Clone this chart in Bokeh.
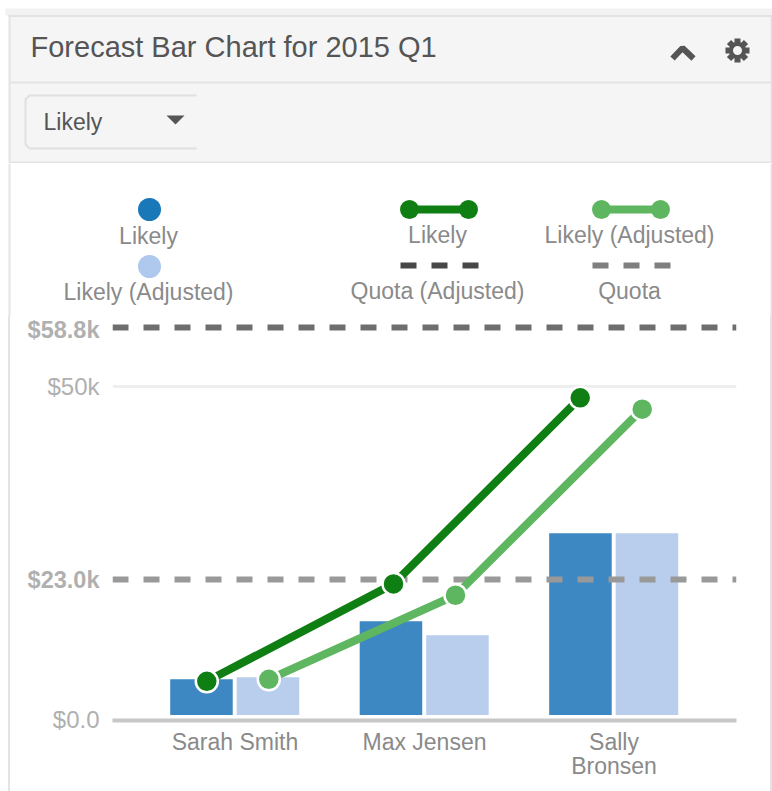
from bokeh.plotting import figure
from bokeh.layouts import column
from bokeh.models import (ColumnDataSource, FactorRange, Range1d, LinearAxis, FixedTicker,
                          CategoricalAxis)
from bokeh.transform import dodge
from bokeh.core.properties import value
from bokeh.embed import file_html
from bokeh.resources import INLINE

FONT = "Liberation Sans"
W = 772

# ---- data (values in $k)
people = ["Sarah Smith", "Max Jensen", "Sally"]
people_second_line = [" ", "  ", "Bronsen"]
bar_likely = [6.1, 14.8, 28.0]
bar_adjusted = [6.4, 12.7, 28.0]
line_likely = [5.8, 20.4, 48.3]
line_adjusted = [6.1, 18.7, 46.6]
quota_adjusted = [58.8]
quota = [21.0]
grid_values = [50]
tick_plain = {0: "$0.0", 50: "$50k"}
tick_bold = {58.8: "$58.8k", 21.0: "$23.0k"}
title_text = "Forecast Bar Chart for 2015 Q1"
dropdown_text = "Likely"
legend_bars = ["Likely", "Likely (Adjusted)"]
legend_lines = ["Likely", "Likely (Adjusted)"]
legend_quota = ["Quota (Adjusted)", "Quota"]

C_BLUE, C_LBLUE = "#3d87c2", "#b8ceec"
C_GREEN, C_LGREEN = "#0f7f14", "#5fb660"
C_BORDER = "#e4e4e4"


def pixel_fig(height, top_px):
    """A figure whose data units are the page's pixels."""
    f = figure(width=W, height=height, x_range=Range1d(0, W),
               y_range=Range1d(top_px + height, top_px), toolbar_location=None,
               output_backend="svg", min_border=0, outline_line_color=None)
    f.axis.visible = False
    f.grid.visible = False
    return f


# ---- header
h = pixel_fig(163, 0)
h.quad(left=[5], right=[772], top=[8], bottom=[15], fill_color="#f2f2f2", line_color=None)
h.quad(left=[9], right=[772], top=[16], bottom=[163], fill_color="#f5f5f5", line_color=None)
h.segment(x0=[8], x1=[772], y0=[15.5], y1=[15.5], line_color="#e2e2e2", line_width=2)
h.segment(x0=[9, 771], x1=[9, 771], y0=[15, 15], y1=[163, 163], line_color=C_BORDER, line_width=2)
h.segment(x0=[9, 9], x1=[772, 772], y0=[82, 162], y1=[82, 162], line_color=C_BORDER, line_width=2)
h.text(x=[30], y=[46], text=[title_text], text_font=value(FONT), text_font_size="29px",
       text_color="#555555", text_baseline="middle")
h.line(x=[196, 29, 25, 25, 29, 196], y=[95, 95, 99, 144, 148, 148], line_color="#e0e0e0", line_width=2)
h.text(x=[43], y=[121], text=[dropdown_text], text_font=value(FONT), text_font_size="23px",
       text_color="#555555", text_baseline="middle")
h.patch(x=[166, 184, 175], y=[115, 115, 124], fill_color="#555555", line_color=None)
h.line(x=[672, 682, 693], y=[58, 47.5, 58], line_color="#555555", line_width=6)
h.segment(x0=[737, 725, 728.5, 728.5], x1=[737, 749, 745.5, 745.5],
          y0=[38, 50, 41.5, 58.5], y1=[62, 50, 58.5, 41.5], line_color="#555555", line_width=6)
h.scatter(x=[737], y=[50], size=13, fill_color="#f5f5f5", line_color="#555555", line_width=4)

# ---- legend
g = pixel_fig(153, 163)
g.segment(x0=[9, 771], x1=[9, 771], y0=[163, 163], y1=[316, 316], line_color=C_BORDER, line_width=2)
g.scatter(x=[149, 149], y=[209, 266], size=23, fill_color=["#1878b8", "#aec8ee"], line_color=None)
for x0, c in ((400, C_GREEN), (592, C_LGREEN)):
    g.line(x=[x0 + 9, x0 + 68], y=[209, 209], line_color=c, line_width=8)
    g.scatter(x=[x0 + 9, x0 + 68], y=[209, 209], size=19, fill_color=c, line_color=None)
for x0, c in ((400, "#474747"), (592, "#7f7f7f")):
    g.line(x=[x0, x0 + 78], y=[265, 265], line_color=c, line_width=6, line_dash="16 15")
lg_x = [148, 148, 437, 437, 629, 629]
lg_y = [235, 291, 234, 290, 234, 290]
lg_t = [legend_bars[0], legend_bars[1], legend_lines[0], legend_quota[0], legend_lines[1], legend_quota[1]]
g.text(x=lg_x, y=lg_y, text=lg_t, text_font=value(FONT), text_font_size="23px",
       text_color="#8a8a8a", text_align="center", text_baseline="middle")

# ---- chart
p = figure(frame_width=624, frame_height=404, toolbar_location=None, output_backend="svg",
           x_range=FactorRange(factors=people, factor_padding=0, range_padding=0.1465,
                               range_padding_units="absolute"),
           y_range=Range1d(-0.08, 60.5), y_axis_type=None,
           min_border_left=112, min_border_right=36, min_border_top=0, min_border_bottom=71,
           outline_line_color=None, border_fill_color=None)
p.extra_x_ranges["line"] = FactorRange(factors=people, factor_padding=0, range_padding=0.171,
                                       range_padding_units="absolute")
p.extra_x_ranges["second"] = FactorRange(factors=people_second_line, factor_padding=0, range_padding=0.1465,
                                         range_padding_units="absolute")
p.xgrid.visible = False

src = ColumnDataSource(dict(x=people, likely=bar_likely, adjusted=bar_adjusted,
                            l_likely=line_likely, l_adjusted=line_adjusted,
                            base=[0.75] * len(people)))

p.hspan(y=grid_values, line_color="#eeeeee", line_width=3)

p.vbar(x=dodge("x", -0.177, range=p.x_range), top="likely", bottom="base", width=0.33, source=src,
       fill_color=C_BLUE, line_color=None)
p.vbar(x=dodge("x", 0.174, range=p.x_range), top="adjusted", bottom="base", width=0.33, source=src,
       fill_color=C_LBLUE, line_color=None)

p.hspan(y=quota_adjusted, line_color="#6e6e6e", line_width=6, line_dash="16 15")
p.hspan(y=quota, line_color="#999999", line_width=6, line_dash="16 15")

for col, off, c in (("l_likely", -0.166, C_GREEN), ("l_adjusted", 0.166, C_LGREEN)):
    xd = dodge("x", off, range=p.extra_x_ranges["line"])
    p.line(x=xd, y=col, source=src, x_range_name="line", line_color=c, line_width=8)
    p.scatter(x=xd, y=col, source=src, x_range_name="line", size=22, fill_color=c,
              line_color="white", line_width=2.5)

xa = p.below[0]
xa.axis_line_color = "#c8c8c8"
xa.axis_line_width = 4
xa.major_tick_line_color = None
xa.minor_tick_line_color = None
xa.major_tick_out = 0
xa.major_label_text_font = FONT
xa.major_label_text_font_size = "23px"
xa.major_label_text_color = "#8a8a8a"
xa.major_label_standoff = 8

xa2 = CategoricalAxis(x_range_name="second", axis_line_color=None, major_tick_line_color=None,
                      minor_tick_line_color=None, major_tick_out=0, major_label_standoff=-5,
                      major_label_text_font=FONT, major_label_text_font_size="23px",
                      major_label_text_color="#8a8a8a")
p.add_layout(xa2, "below")

ya_bold = LinearAxis(ticker=FixedTicker(ticks=list(tick_bold)), major_label_overrides=tick_bold,
                     axis_line_color=None, major_tick_line_color=None, minor_tick_line_color=None,
                     major_tick_out=0,
                     major_label_text_font=FONT, major_label_text_font_size="23.5px",
                     major_label_text_font_style="bold", major_label_text_color="#b0b0b0",
                     major_label_standoff=13)
ya_plain = LinearAxis(ticker=FixedTicker(ticks=list(tick_plain)), major_label_overrides=tick_plain,
                      axis_line_color=None, major_tick_line_color=None, minor_tick_line_color=None,
                      major_tick_out=0,
                      major_label_text_font=FONT, major_label_text_font_size="24px",
                      major_label_text_color="#b0b0b0", major_label_standoff=-75)
p.add_layout(ya_bold, "left")
p.add_layout(ya_plain, "left")

wrap = column(p, styles={"background-image": "linear-gradient(to right, #fff 8px, #e4e4e4 8px, #e4e4e4 10px, "
                                             "#fff 10px, #fff 770px, #e4e4e4 770px)"})
page = column(column(h), column(g), wrap, spacing=0)
open("out.html", "w").write(file_html(page, INLINE))
